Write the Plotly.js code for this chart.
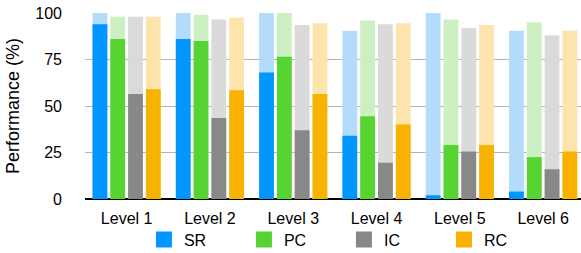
<!DOCTYPE html>
<html>
<head>
<meta charset="utf-8">
<script src="https://cdn.plot.ly/plotly-3.0.1.min.js"></script>
<style>
html, body { margin: 0; padding: 0; background: #fff; overflow: hidden; }
#chart { width: 581px; height: 253px; }
</style>
</head>
<body>
<div id="chart"></div>
<script>
// ---- data ----
var categories = ['Level 1', 'Level 2', 'Level 3', 'Level 4', 'Level 5', 'Level 6'];
var seriesNames = ['SR', 'PC', 'IC', 'RC'];
var SR_fg = [94, 86, 68, 34, 2, 4];
var PC_fg = [86, 85, 76.5, 44.5, 29, 22.5];
var IC_fg = [56.5, 43.5, 37, 19.5, 25.5, 16];
var RC_fg = [59, 58.5, 56.5, 40, 29, 25.5];
var SR_bg = [100, 100, 100, 90.5, 100, 90.5];
var PC_bg = [98, 99, 100, 96, 96.5, 95];
var IC_bg = [98, 96.5, 93.5, 94, 92, 88];
var RC_bg = [98, 97.5, 94.5, 94.5, 93.5, 90.5];
var yTicks = [0, 25, 50, 75, 100];

// ---- styles ----
var darkColors = ['#0096ff', '#58d432', '#888888', '#f8b200'];
var lightColors = ['#b3dcfb', '#cdf0c3', '#dadada', '#fce4ac'];
var fg = [SR_fg, PC_fg, IC_fg, RC_fg];
var bg = [SR_bg, PC_bg, IC_bg, RC_bg];
var barW = 0.178;
var step = 0.2137;
var start = -0.41;

var traces = [];
for (var i = 0; i < 4; i++) {
  traces.push({
    type: 'bar', x: categories, y: bg[i], name: seriesNames[i] + ' max',
    marker: { color: lightColors[i], line: { width: 0 } },
    width: barW, offset: start + i * step, showlegend: false, hoverinfo: 'skip'
  });
}
for (var i = 0; i < 4; i++) {
  traces.push({
    type: 'bar', x: categories, y: fg[i], name: seriesNames[i],
    marker: { color: darkColors[i], line: { width: 0 }, cornerradius: 4 },
    width: barW, offset: start + i * step, showlegend: false
  });
}
for (var i = 0; i < 4; i++) {
  traces.push({
    type: 'scatter', mode: 'markers', x: [null], y: [null], name: seriesNames[i],
    marker: { symbol: 'square', size: 16, color: darkColors[i] },
    showlegend: true
  });
}

var font = 'Liberation Sans, Arial, Helvetica, sans-serif';
var layout = {
  width: 581, height: 253,
  margin: { l: 85, r: 0, t: 13, b: 54, pad: 0, autoexpand: false },
  barmode: 'overlay',
  paper_bgcolor: '#ffffff', plot_bgcolor: '#ffffff',
  font: { family: font, size: 16, color: '#000' },
  xaxis: {
    type: 'category', range: [-0.5, 5.454], showgrid: false, zeroline: false,
    showline: false, ticks: '', tickfont: { size: 16, color: '#000' },
    ticklabelstandoff: 8, fixedrange: true
  },
  yaxis: {
    range: [0, 100], tickvals: yTicks, ticktext: yTicks.map(String),
    showgrid: true, gridcolor: '#b4b4b4', gridwidth: 1,
    zeroline: true, zerolinecolor: '#000', zerolinewidth: 2,
    showline: false, ticks: '', tickfont: { size: 16, color: '#000' },
    ticklabelstandoff: 22,
    title: { text: 'Performance (%)', font: { size: 18, color: '#000' }, standoff: 10 },
    fixedrange: true
  },
  showlegend: true,
  legend: {
    orientation: 'h', xref: 'container', yref: 'container',
    x: 0.592, xanchor: 'center', y: 0.0534, yanchor: 'middle',
    font: { size: 16, color: '#000' }, itemsizing: 'trace',
    entrywidth: 55, entrywidthmode: 'pixels', bgcolor: 'rgba(0,0,0,0)'
  }
};

Plotly.newPlot('chart', traces, layout, { displayModeBar: false, staticPlot: true });
</script>
</body>
</html>
